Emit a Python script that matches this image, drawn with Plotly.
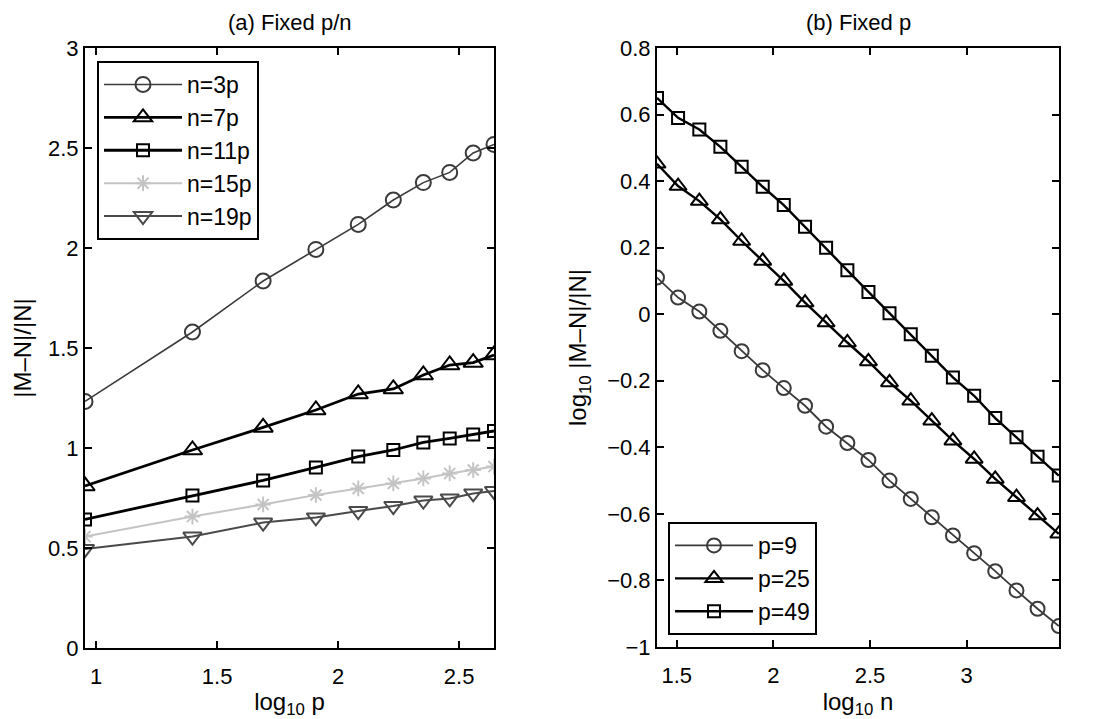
import plotly.graph_objects as go

# ---------- data: panel (a) Fixed p/n ----------
log10_p = [0.954, 1.398, 1.690, 1.908, 2.083, 2.228, 2.352, 2.461, 2.558, 2.644]
n3p  = [1.233, 1.58, 1.835, 1.993, 2.118, 2.24, 2.327, 2.378, 2.475, 2.518]
n7p  = [0.81, 0.99, 1.103, 1.19, 1.27, 1.295, 1.365, 1.415, 1.427, 1.465]
n11p = [0.643, 0.762, 0.838, 0.903, 0.957, 0.99, 1.028, 1.048, 1.068, 1.085]
n15p = [0.557, 0.657, 0.718, 0.765, 0.798, 0.823, 0.848, 0.873, 0.89, 0.907]
n19p = [0.495, 0.557, 0.627, 0.653, 0.685, 0.71, 0.737, 0.748, 0.773, 0.785]

# ---------- data: panel (b) Fixed p ----------
log10_n = [1.398, 1.507, 1.617, 1.726, 1.836, 1.945, 2.054, 2.164, 2.273, 2.383,
           2.492, 2.601, 2.711, 2.820, 2.929, 3.039, 3.148, 3.258, 3.367, 3.477]
p9  = [0.110, 0.050, 0.008, -0.050, -0.111, -0.168, -0.222, -0.275, -0.338, -0.387,
       -0.438, -0.500, -0.555, -0.610, -0.665, -0.718, -0.772, -0.830, -0.885, -0.937]
p25 = [0.452, 0.385, 0.340, 0.285, 0.220, 0.160, 0.100, 0.035, -0.025, -0.085,
       -0.142, -0.205, -0.260, -0.320, -0.380, -0.435, -0.495, -0.550, -0.605, -0.660]
p49 = [0.650, 0.590, 0.555, 0.503, 0.443, 0.383, 0.328, 0.263, 0.200, 0.132,
       0.067, 0.003, -0.060, -0.125, -0.190, -0.245, -0.312, -0.370, -0.428, -0.485]

FONT = "Liberation Sans, Arial, Helvetica, sans-serif"

fig = go.Figure()

left_series = [
    ("n=3p", n3p, "circle-open", "#3a3a3a", 1.6, 15),
    ("n=7p", n7p, "triangle-up-open", "#000000", 2.8, 17),
    ("n=11p", n11p, "square-open", "#000000", 2.8, 12),
    ("n=15p", n15p, "asterisk-open", "#c4c4c4", 2.0, 13),
    ("n=19p", n19p, "triangle-down-open", "#4a4a4a", 2.0, 16),
]
for name, ys, sym, col, lw, ms in left_series:
    fig.add_trace(go.Scatter(
        x=log10_p, y=ys, name=name, mode="lines+markers",
        line=dict(color=col, width=lw),
        marker=dict(symbol=sym, size=ms, color=col, line=dict(color=col, width=2)),
        xaxis="x", yaxis="y", legend="legend",
    ))

right_series = [
    ("p=9", p9, "circle-open", "#3a3a3a", 1.8, 14),
    ("p=25", p25, "triangle-up-open", "#000000", 2.4, 15),
    ("p=49", p49, "square-open", "#000000", 2.4, 12),
]
for name, ys, sym, col, lw, ms in right_series:
    fig.add_trace(go.Scatter(
        x=log10_n, y=ys, name=name, mode="lines+markers",
        line=dict(color=col, width=lw),
        marker=dict(symbol=sym, size=ms, color=col, line=dict(color=col, width=2)),
        xaxis="x2", yaxis="y2", legend="legend2",
    ))

axis_common = dict(
    showline=True, linecolor="black", linewidth=2, mirror="ticks",
    ticks="inside", ticklen=7, tickwidth=1.5, tickcolor="black",
    showgrid=False, zeroline=False, automargin=False,
    tickfont=dict(family=FONT, size=22, color="black"),
)
xtick = dict(ticklabelstandoff=8)
TITLE_FONT = dict(family=FONT, size=24, color="black")

fig.update_layout(
    template="none",
    width=1110, height=719,
    margin=dict(l=0, r=0, t=0, b=0, autoexpand=False),
    paper_bgcolor="white", plot_bgcolor="white",
    font=dict(family=FONT, color="black"),
    showlegend=True,
    xaxis=dict(domain=[85/1110, 494/1110], range=[0.954, 2.644],
               tickvals=[1, 1.5, 2, 2.5], ticktext=["1", "1.5", "2", "2.5"],
               title=dict(text="log<sub>10</sub> p", font=TITLE_FONT, standoff=6),
               anchor="y", **axis_common, **xtick),
    yaxis=dict(domain=[1-648/719, 1-48/719], range=[0, 3], dtick=0.5,
               title=dict(text="|M–N|/|N|", font=TITLE_FONT, standoff=10),
               anchor="x", **axis_common),
    xaxis2=dict(domain=[657/1110, 1059/1110], range=[1.398, 3.478],
                tickvals=[1.5, 2, 2.5, 3], ticktext=["1.5", "2", "2.5", "3"],
                title=dict(text="log<sub>10</sub> n", font=TITLE_FONT, standoff=6),
                anchor="y2", **axis_common, **xtick),
    yaxis2=dict(domain=[1-647/719, 1-48/719], range=[-1, 0.8], dtick=0.2,
                title=dict(text="log<sub>10</sub> |M–N|/|N|", font=TITLE_FONT, standoff=14),
                anchor="x2", **axis_common),
    legend=dict(x=97/1110, y=1-61/719, xanchor="left", yanchor="top",
                bgcolor="white", bordercolor="black", borderwidth=2,
                font=dict(family=FONT, size=23, color="black"),
                itemwidth=78, tracegroupgap=0),
    legend2=dict(x=668/1110, y=1-635/719, xanchor="left", yanchor="bottom",
                 bgcolor="white", bordercolor="black", borderwidth=2,
                 font=dict(family=FONT, size=23, color="black"),
                 itemwidth=78),
    annotations=[
        dict(text="(a) Fixed p/n", x=(85+494)/2/1110, y=1-22/719, xref="paper", yref="paper",
             showarrow=False, font=dict(family=FONT, size=22, color="black"),
             xanchor="center", yanchor="middle"),
        dict(text="(b) Fixed p", x=(657+1059)/2/1110, y=1-22/719, xref="paper", yref="paper",
             showarrow=False, font=dict(family=FONT, size=22, color="black"),
             xanchor="center", yanchor="middle"),
    ],
)

fig.write_html("out.html")
